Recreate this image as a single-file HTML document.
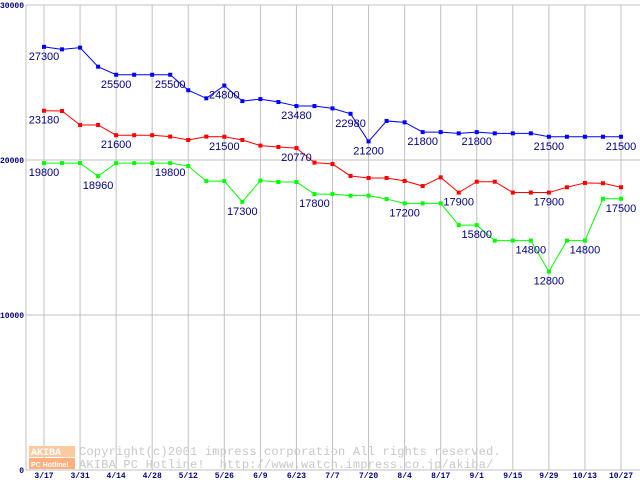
<!DOCTYPE html>
<html><head><meta charset="utf-8"><style>
body{margin:0;background:#fff}
svg{display:block}
</style></head><body>
<svg id="chart" width="640" height="480" xmlns="http://www.w3.org/2000/svg">
<g id="grid"></g>
<g id="wm">
<rect x="29" y="446" width="46" height="11" fill="#ffc9a0"/>
<rect x="29" y="458" width="46" height="11" fill="#ffb080"/>
<text x="31" y="455" font-family="Liberation Mono, monospace" font-size="10" font-weight="bold" fill="#fff">AKIBA</text>
<text x="31" y="467" font-family="Liberation Sans, sans-serif" font-size="7" font-weight="bold" fill="#fff">PC Hotline!</text>
<text x="79" y="455" font-family="Liberation Mono, monospace" font-size="12" letter-spacing="0.2" fill="#c8c8c8">Copyright(c)2001 impress corporation All rights reserved.</text>
<text x="79" y="468" font-family="Liberation Mono, monospace" font-size="12" letter-spacing="0.2" fill="#c8c8c8" xml:space="preserve">AKIBA PC Hotline!  http://www.watch.impress.co.jp/akiba/</text>
</g>
<g id="series"></g>
</svg>
<script>
const xLabels=["3/17","3/31","4/14","4/28","5/12","5/26","6/9","6/23","7/7","7/20","8/4","8/17","9/1","9/15","9/29","10/13","10/27"];
const yTicks=[0,10000,20000,30000];
const blue=[27300,27140,27250,26020,25500,25500,25500,25500,24500,23980,24800,23800,23930,23740,23480,23480,23330,22980,21200,22520,22430,21800,21800,21720,21800,21720,21720,21720,21500,21500,21500,21500,21500];
const red=[23180,23160,22260,22260,21600,21600,21600,21510,21290,21510,21500,21290,20930,20840,20770,19830,19740,18970,18840,18840,18650,18320,18880,17900,18600,18600,17900,17900,17900,18240,18520,18500,18240];
const green=[19800,19800,19800,18960,19800,19800,19800,19800,19610,18640,18640,17300,18670,18580,18580,17800,17800,17700,17700,17480,17200,17200,17200,15800,15800,14800,14800,14800,12800,14800,14800,17500,17500];
const blueLabels=[0,4,7,10,14,17,18,21,24,28,32];
const redLabels=[0,4,10,14,23,28];
const greenLabels=[0,3,7,11,15,20,24,27,28,30,32];
const NS="http://www.w3.org/2000/svg";
const xs=i=>44+i*(577/32);
const ys=v=>470-v*0.0155;
const grid=document.getElementById('grid');
const ser=document.getElementById('series');
function mk(tag,attrs,parent){const e=document.createElementNS(NS,tag);for(const k in attrs)e.setAttribute(k,attrs[k]);parent.appendChild(e);return e;}
yTicks.forEach(v=>{
  const l=mk('line',{x1:26,x2:640,y1:ys(v),y2:ys(v),stroke:'#c0c0c0','stroke-width':1},grid);
  
  
  const t=mk('text',{x:24,y:ys(v)+3,'text-anchor':'end','font-family':'Liberation Mono, monospace','font-size':8,'font-weight':'bold',fill:'#000080'},grid);
  t.textContent=v;
  
  
});
mk('line',{x1:26,x2:26,y1:5,y2:470,stroke:'#c0c0c0'},grid);
xLabels.forEach((s,k)=>{
  const x=xs(k*2);
  const l=mk('line',{x1:x,x2:x,y1:5,y2:470,stroke:'#c0c0c0','stroke-width':1},grid);
  
  
  const t=mk('text',{x:x,y:478,'text-anchor':'middle','font-family':'Liberation Mono, monospace','font-size':8,'font-weight':'bold',fill:'#000080'},grid);
  t.textContent=s;
  
  
});
function draw(data,color,labels,name){
  const g=mk('g',{},ser);
  
  
  const p=mk('polyline',{points:data.map((v,i)=>xs(i)+','+ys(v)).join(' '),fill:'none',stroke:color,'stroke-width':1},g);
  
  
  data.forEach((v,i)=>{
    const r=mk('rect',{x:xs(i)-2,y:ys(v)-2,width:4,height:4,fill:color},g);
    
    
  });
  labels.forEach(i=>{
    const t=mk('text',{x:xs(i),y:ys(data[i])+13,'text-anchor':'middle','font-family':'Liberation Sans, sans-serif','font-size':11,fill:'#000080'},g);
    t.textContent=data[i];
    
    
  });
}
draw(blue,'#0000ff',blueLabels,'blue');
draw(red,'#ff0000',redLabels,'red');
draw(green,'#00ff00',greenLabels,'green');
</script>
</body></html>
